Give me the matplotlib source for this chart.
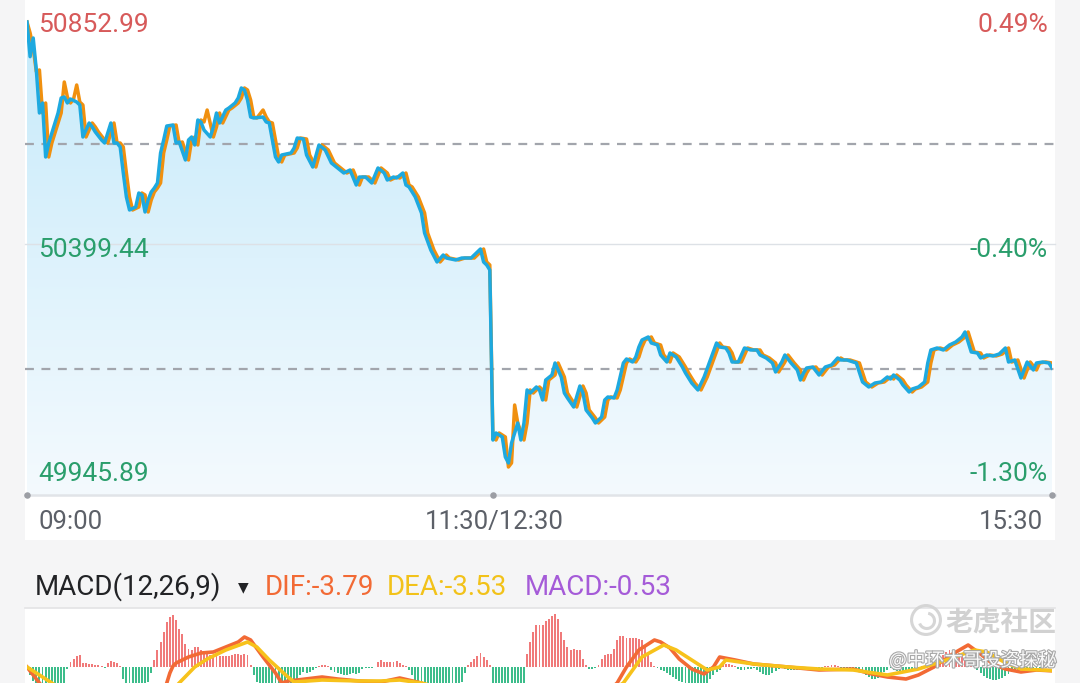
import matplotlib
matplotlib.use("Agg")
import matplotlib.pyplot as plt
import matplotlib.patheffects as pe
from matplotlib.patches import Rectangle, Circle, Polygon, Arc
from matplotlib.lines import Line2D
import numpy as np

# ---------------- data ----------------
price_times = [
    "09:00", "09:01", "09:02", "09:03", "09:04", "09:05", "09:06", "09:07", "09:08", "09:10",
    "09:11", "09:12", "09:13", "09:14", "09:16", "09:17", "09:18", "09:20", "09:21", "09:22",
    "09:24", "09:25", "09:26", "09:27", "09:28", "09:29", "09:30", "09:31", "09:32", "09:33",
    "09:35", "09:36", "09:37", "09:38", "09:39", "09:40", "09:41", "09:42", "09:43", "09:44",
    "09:45", "09:47", "09:48", "09:49", "09:51", "09:52", "09:53", "09:54", "09:55", "09:56",
    "09:57", "09:59", "10:00", "10:01", "10:02", "10:04", "10:05", "10:07", "10:08", "10:09",
    "10:10", "10:11", "10:12", "10:13", "10:16", "10:17", "10:18", "10:19", "10:20", "10:21",
    "10:22", "10:25", "10:26", "10:27", "10:29", "10:30", "10:32", "10:34", "10:36", "10:38",
    "10:40", "10:42", "10:44", "10:46", "10:47", "10:49", "10:51", "10:53", "10:55", "10:56",
    "10:58", "10:59", "11:01", "11:02", "11:03", "11:05", "11:07", "11:08", "11:10", "11:12",
    "11:14", "11:15", "11:18", "11:20", "11:23", "11:25", "11:26", "11:27", "11:28", "11:29",
    "12:30", "12:31", "12:33", "12:34", "12:35", "12:36", "12:38", "12:39", "12:40", "12:41",
    "12:42", "12:44", "12:45", "12:46", "12:47", "12:49", "12:50", "12:52", "12:53", "12:54",
    "12:56", "12:58", "12:59", "13:00", "13:02", "13:03", "13:05", "13:06", "13:07", "13:09",
    "13:10", "13:12", "13:13", "13:15", "13:16", "13:17", "13:18", "13:20", "13:21", "13:23",
    "13:24", "13:26", "13:27", "13:29", "13:31", "13:32", "13:34", "13:36", "13:38", "13:40",
    "13:42", "13:43", "13:45", "13:46", "13:47", "13:49", "13:51", "13:53", "13:55", "13:56",
    "13:58", "14:00", "14:01", "14:03", "14:04", "14:06", "14:08", "14:09", "14:10", "14:11",
    "14:13", "14:15", "14:17", "14:19", "14:21", "14:22", "14:24", "14:27", "14:29", "14:31",
    "14:33", "14:35", "14:37", "14:38", "14:39", "14:41", "14:42", "14:44", "14:45", "14:47",
    "14:49", "14:50", "14:51", "14:53", "14:55", "14:57", "14:59", "15:01", "15:02", "15:04",
    "15:06", "15:07", "15:09", "15:11", "15:13", "15:15", "15:16", "15:18", "15:20", "15:21",
    "15:22", "15:24", "15:25", "15:27", "15:29", "15:30",
]
price_values = [
    50852.99, 50782.3, 50820.4, 50755.2, 50667.5, 50687.9, 50577.8, 50606.3, 50626.7, 50667.5,
    50698.1, 50700.1, 50687.9, 50696.0, 50689.9, 50683.8, 50618.6, 50647.1, 50639.0, 50628.8,
    50612.5, 50606.3, 50626.7, 50647.1, 50606.3, 50606.3, 50598.2, 50545.2, 50496.3, 50469.8,
    50475.9, 50504.4, 50500.4, 50465.7, 50490.2, 50506.5, 50514.6, 50524.8, 50586.0, 50612.5,
    50641.0, 50643.0, 50606.3, 50608.4, 50571.7, 50612.5, 50618.6, 50602.3, 50653.2, 50649.2,
    50632.8, 50618.6, 50639.0, 50667.5, 50647.1, 50673.6, 50677.7, 50687.9, 50698.1, 50718.5,
    50714.4, 50694.0, 50659.3, 50657.3, 50659.3, 50649.2, 50647.1, 50612.5, 50577.8, 50567.6,
    50581.9, 50586.0, 50596.2, 50616.5, 50614.5, 50581.9, 50557.4, 50602.3, 50592.1, 50565.6,
    50555.4, 50545.2, 50551.3, 50520.7, 50537.0, 50537.0, 50524.8, 50555.4, 50545.2, 50530.9,
    50537.0, 50535.0, 50545.2, 50520.7, 50516.7, 50496.3, 50463.7, 50422.9, 50388.2, 50363.8,
    50378.0, 50371.9, 50367.9, 50371.9, 50371.9, 50384.2, 50390.3, 50363.8, 50357.7, 50347.5,
    50000.9, 50015.2, 50007.1, 49966.3, 49954.1, 49994.8, 50035.6, 50000.9, 50035.6, 50102.9,
    50096.7, 50109.0, 50102.9, 50082.5, 50123.2, 50133.4, 50157.9, 50129.4, 50096.7, 50086.6,
    50068.2, 50111.0, 50096.7, 50062.1, 50045.8, 50035.6, 50047.8, 50082.5, 50088.6, 50086.6,
    50102.9, 50157.9, 50166.1, 50159.9, 50170.1, 50190.5, 50204.8, 50210.9, 50198.7, 50194.6,
    50174.2, 50159.9, 50178.3, 50170.1, 50149.7, 50137.5, 50117.1, 50102.9, 50129.4, 50164.0,
    50198.7, 50190.5, 50188.5, 50178.3, 50159.9, 50159.9, 50188.5, 50184.4, 50184.4, 50174.2,
    50168.1, 50157.9, 50139.6, 50159.9, 50174.2, 50157.9, 50143.6, 50123.2, 50137.5, 50147.7,
    50149.7, 50133.4, 50149.7, 50153.8, 50168.1, 50164.0, 50164.0, 50157.9, 50119.2, 50109.0,
    50117.1, 50119.2, 50129.4, 50125.3, 50133.4, 50123.2, 50113.1, 50098.8, 50104.9, 50109.0,
    50119.2, 50157.9, 50184.4, 50188.5, 50184.4, 50194.6, 50200.7, 50210.9, 50221.1, 50180.3,
    50178.3, 50168.1, 50174.2, 50172.2, 50176.2, 50188.5, 50159.9, 50164.0, 50127.3, 50143.6,
    50159.9, 50143.6, 50157.9, 50159.9, 50157.9, 50147.7,
]

avg_times = [
    "09:00", "09:01", "09:02", "09:03", "09:04", "09:05", "09:06", "09:07", "09:08", "09:09",
    "09:11", "09:12", "09:13", "09:14", "09:15", "09:16", "09:17", "09:18", "09:19", "09:21",
    "09:22", "09:23", "09:25", "09:26", "09:27", "09:28", "09:29", "09:30", "09:31", "09:32",
    "09:33", "09:34", "09:36", "09:37", "09:38", "09:39", "09:40", "09:41", "09:42", "09:43",
    "09:44", "09:45", "09:46", "09:48", "09:49", "09:50", "09:52", "09:53", "09:54", "09:55",
    "09:56", "09:57", "09:58", "10:00", "10:01", "10:02", "10:03", "10:05", "10:06", "10:08",
    "10:09", "10:10", "10:11", "10:12", "10:13", "10:14", "10:16", "10:17", "10:18", "10:19",
    "10:20", "10:21", "10:22", "10:23", "10:26", "10:27", "10:28", "10:30", "10:31", "10:33",
    "10:35", "10:37", "10:39", "10:41", "10:43", "10:45", "10:47", "10:48", "10:50", "10:52",
    "10:54", "10:56", "10:57", "10:59", "11:00", "11:02", "11:03", "11:04", "11:06", "11:08",
    "11:09", "11:11", "11:13", "11:15", "11:16", "11:19", "11:21", "11:24", "11:26", "11:27",
    "11:28", "11:29",
    "12:30", "12:31", "12:32", "12:34", "12:35", "12:36", "12:37", "12:38", "12:40", "12:41",
    "12:42", "12:43", "12:45", "12:46", "12:47", "12:48", "12:50", "12:51", "12:53", "12:54",
    "12:55", "12:57", "12:59", "13:00", "13:01", "13:03", "13:04", "13:06", "13:07", "13:08",
    "13:10", "13:11", "13:13", "13:14", "13:16", "13:17", "13:18", "13:19", "13:21", "13:22",
    "13:24", "13:25", "13:27", "13:28", "13:30", "13:32", "13:33", "13:35", "13:37", "13:39",
    "13:41", "13:43", "13:44", "13:46", "13:47", "13:48", "13:50", "13:52", "13:54", "13:56",
    "13:57", "13:59", "14:01", "14:02", "14:04", "14:05", "14:07", "14:09", "14:10", "14:11",
    "14:12", "14:14", "14:16", "14:18", "14:20", "14:22", "14:23", "14:25", "14:28", "14:30",
    "14:32", "14:34", "14:36", "14:38", "14:39", "14:40", "14:42", "14:43", "14:45", "14:46",
    "14:48", "14:50", "14:51", "14:52", "14:54", "14:56", "14:58", "15:00", "15:02", "15:03",
    "15:05", "15:07", "15:08", "15:10", "15:12", "15:14", "15:16", "15:17", "15:19", "15:21",
    "15:22", "15:23", "15:25", "15:26", "15:28", "15:30",
]
avg_values = [
    50852.99, 50830.6, 50800.0, 50752.0, 50755.2, 50667.5, 50687.9, 50577.8, 50606.3, 50626.7,
    50667.5, 50730.7, 50700.1, 50687.9, 50696.0, 50724.6, 50689.9, 50683.8, 50618.6, 50647.1,
    50639.0, 50628.8, 50612.5, 50606.3, 50626.7, 50647.1, 50606.3, 50606.3, 50598.2, 50545.2,
    50496.3, 50469.8, 50475.9, 50504.4, 50500.4, 50465.7, 50490.2, 50506.5, 50514.6, 50524.8,
    50586.0, 50612.5, 50641.0, 50643.0, 50606.3, 50608.4, 50571.7, 50612.5, 50618.6, 50602.3,
    50653.2, 50649.2, 50673.6, 50618.6, 50639.0, 50667.5, 50647.1, 50673.6, 50677.7, 50687.9,
    50698.1, 50718.5, 50714.4, 50694.0, 50659.3, 50657.3, 50673.6, 50659.3, 50649.2, 50647.1,
    50612.5, 50577.8, 50567.6, 50581.9, 50586.0, 50596.2, 50616.5, 50614.5, 50581.9, 50557.4,
    50602.3, 50592.1, 50565.6, 50555.4, 50545.2, 50551.3, 50520.7, 50537.0, 50537.0, 50524.8,
    50555.4, 50545.2, 50530.9, 50537.0, 50535.0, 50545.2, 50520.7, 50516.7, 50496.3, 50463.7,
    50422.9, 50388.2, 50363.8, 50378.0, 50371.9, 50367.9, 50371.9, 50371.9, 50384.2, 50390.3,
    50363.8, 50357.7,
    50007.1, 50000.9, 50015.2, 50007.1, 49945.89, 49954.1, 50072.3, 50035.6, 50000.9, 50035.6,
    50102.9, 50096.7, 50109.0, 50102.9, 50082.5, 50123.2, 50133.4, 50157.9, 50129.4, 50096.7,
    50086.6, 50068.2, 50111.0, 50096.7, 50062.1, 50045.8, 50035.6, 50047.8, 50082.5, 50088.6,
    50086.6, 50102.9, 50157.9, 50166.1, 50159.9, 50170.1, 50190.5, 50204.8, 50210.9, 50198.7,
    50194.6, 50174.2, 50159.9, 50178.3, 50170.1, 50149.7, 50137.5, 50117.1, 50102.9, 50129.4,
    50164.0, 50198.7, 50190.5, 50188.5, 50178.3, 50159.9, 50159.9, 50188.5, 50184.4, 50184.4,
    50174.2, 50168.1, 50157.9, 50139.6, 50159.9, 50174.2, 50157.9, 50143.6, 50123.2, 50137.5,
    50147.7, 50149.7, 50133.4, 50149.7, 50153.8, 50168.1, 50164.0, 50164.0, 50157.9, 50119.2,
    50109.0, 50117.1, 50119.2, 50129.4, 50125.3, 50133.4, 50123.2, 50113.1, 50098.8, 50104.9,
    50109.0, 50119.2, 50157.9, 50184.4, 50188.5, 50184.4, 50194.6, 50200.7, 50210.9, 50221.1,
    50180.3, 50178.3, 50168.1, 50174.2, 50172.2, 50176.2, 50188.5, 50159.9, 50164.0, 50127.3,
    50143.6, 50159.9, 50143.6, 50157.9, 50159.9, 50157.9,
]

# price scale labels (left) and change labels (right)
scale_values = [50852.99, 50399.44, 49945.89]
scale_labels = ["50852.99", "50399.44", "49945.89"]
pct_labels = ["0.49%", "-0.40%", "-1.30%"]
prev_close = 50604.0
ref_level = 50145.7
time_ticks = ["09:00", "11:30", "15:30"]
time_tick_labels = ["09:00", "11:30/12:30", "15:30"]

# MACD histogram, one bar per minute (09:00 ... 15:30)
macd_hist = [
    -3, -8, -14, -18, -20, -20, -20, -20, -20, -20, -20, -20, -20, -2,
    5, 8, 11, 12, 4, 4, 3, 3, 2, 2, 1, -1, 4, 6, 5, 4, 1,
    -12, -20, -20, -20, -20, -20, -20, -20, -15, -6,
    7, 17, 25, 35, 45, 50, 52, 47, 38, 33, 23, 18, 17, 20, 20, 17, 13, 13, 12, 12,
    11, 11, 11, 11, 11, 12, 13, 13, 12, 13, 12, 2,
    -8, -15, -20, -20, -20, -20, -20, -20, -20, -20, -20, -20, -18, -15, -12, -8,
    -5, -6, -5, -3, -1, 1, 2, 2, 1,
    -3, -5, -6, -7, -8, -8, -7, -6, -7, -6,
    -2, -1, -1, -1, 0,
    5, 7, 5, 5, 5, 5, 6, 4, 2, 1,
    -3, -8, -15, -20, -20, -20, -20, -20, -20, -20, -20, -20, -20, -20, -20, -20, -20, -15, -6,
    2, 5, 8, 11, 14, 10, 7, 2,
    -20, -20, -20, -20, -20, -20, -20, -20, -20, -20, -20,
    13, 25, 35, 42, 42, 42, 46, 48, 51, 53, 48, 35, 27, 20, 17, 18, 17, 17, 8, 2,
    -2, -2, -1,
    2, 8, 12, 13, 13, 18, 27, 31, 31, 29, 29, 29, 29, 28, 27, 20, 13, 5, 1,
    -1, -3, -4, -6, -8, -10, -12, -14, -15, -16, -17, -20, -20, -20, -20, -20, -20,
    -12, -8, -5, -3,
    2, 3, 3, 2, 1, -2, -3, -3, -2, -2, -1,
    -3, -5, -7, -8, -8, -6, -4, -2,
    -1, -2, -3, -3, -3, -3, -3, -2, -2, -3, -3, -2, -2, -1, 1, 1, 2, 2, 1, -1,
    -2, -2, -2, -2, -2, -3,
    -5, -8, -10, -12, -12, -11, -8, -5, -3, -1,
    -3, -4, -5, -5, -4, -4, -3, -2, -1, 1, 1, 1, 1,
    3, 6, 9, 12, 15, 17, 17, 16, 14, 11, 8, 5, 2, 1,
    -3, -6, -9, -11, -12, -13, -13, -12, -11, -9, -7, -5, -4, -3, -3,
    -3, -3, -2, -2, -1, -1, -1, -1, -1, -1,
]
dif_times = [
    "09:00", "09:02", "09:04", "09:08", "09:15", "09:25", "09:35", "09:40", "09:43", "09:45",
    "09:46", "09:47", "09:48", "09:52", "09:56", "10:00", "10:04", "10:08", "10:10", "10:12",
    "10:16", "10:20", "10:22", "10:24", "10:27", "10:35", "10:40", "10:47", "10:54", "11:00",
    "11:07", "11:12", "11:20", "11:29", "12:32", "12:38", "12:45", "12:55", "13:05", "13:10",
    "13:13", "13:17", "13:21", "13:22", "13:24", "13:27", "13:30", "13:34", "13:38", "13:41",
    "13:43", "13:48", "13:54", "14:05", "14:15", "14:26", "14:32", "14:37", "14:43", "14:47",
    "14:52", "14:58", "15:03", "15:07", "15:11", "15:15", "15:20", "15:25", "15:30",
]
dif_values = [
    0, -8, -16, -30, -40, -45, -55, -50, -35, -16,
    -6, 1, 4, 10, 14, 15, 20, 25, 30, 27,
    10, -6, -16, -14, -13, -10, -12, -14, -15, -11,
    -16, -25, -35, -30, -60, -90, -80, -55, -30, -16,
    0, 17, 25, 27, 25, 19, 8, -2, -7, 0,
    10, 7, 3, 0, -3, -2, -7, -10, -12, -8,
    0, 13, 22, 13, 3, -2, -5, -3, -3.79,
]
dea_times = [
    "09:00", "09:03", "09:06", "09:10", "09:20", "09:30", "09:40", "09:45", "09:49", "09:54",
    "09:58", "10:04", "10:11", "10:14", "10:18", "10:24", "10:26", "10:35", "10:47", "10:54",
    "11:00", "11:07", "11:15", "11:29", "12:35", "12:45", "12:55", "13:05", "13:12", "13:18",
    "13:25", "13:29", "13:34", "13:39", "13:43", "13:45", "13:54", "14:05", "14:15", "14:26",
    "14:37", "14:47", "14:56", "15:05", "15:09", "15:14", "15:20", "15:30",
]
dea_values = [
    0, -6, -12, -20, -32, -40, -42, -30, -16, 0,
    8, 17, 25, 20, 7, -10, -15, -13, -14, -14,
    -13, -16, -22, -28, -45, -60, -50, -30, -16, 10,
    22, 17, 7, -3, 0, 7, 3, 0, -2, -3,
    -8, -2, 7, 17, 15, 6, -2, -3.53,
]
macd_title = "MACD(12,26,9)"
macd_items = ["DIF:-3.79", "DEA:-3.53", "MACD:-0.53"]


def to_idx(t):
    h, m = map(int, t.split(":"))
    tot = h * 60 + m
    return tot - 540 if tot <= 690 else 150 + (tot - 750)


# ---------------- figure ----------------
W, H = 1080, 683
BG = "#f5f5f6"
RED = "#d75a5a"
GREEN = "#2a9e6c"
BLUE = "#1ea9df"
ORANGE = "#f0900f"
FONT = "Roboto"

fig = plt.figure(figsize=(W / 100, H / 100), dpi=100, facecolor=BG)


def fx(x):
    return x / W


def fy(y):
    return 1 - y / H


fig.patches.append(Rectangle((fx(25), fy(540)), 1030 / W, 540 / H, transform=fig.transFigure,
                             facecolor="white", edgecolor="none", zorder=-5))
fig.patches.append(Rectangle((fx(25), 0), 1030 / W, 75 / H, transform=fig.transFigure,
                             facecolor="white", edgecolor="none", zorder=-5))
fig.add_artist(Line2D([fx(25), fx(1055)], [fy(608), fy(608)], color="#e3e3e5", lw=1.2, zorder=-4))

# ---------- price panel ----------
ax = fig.add_axes([fx(27), fy(495), 1025 / W, 495 / H])
ax.set_facecolor("none")
hi_v, mid_v, lo_v = scale_values
per_px = (hi_v - lo_v) / 445.0
ylo, yhi = lo_v - 28 * per_px, hi_v + 22 * per_px

xb = np.array([to_idx(t) for t in price_times], dtype=float)
yb = np.array(price_values)
xo = np.array([to_idx(t) for t in avg_times], dtype=float)
yo = np.array(avg_values)

verts = [(xb[0], ylo)] + list(zip(xb, yb)) + [(xb[-1], ylo)]
poly = Polygon(verts, closed=True, facecolor="none", edgecolor="none")
ax.add_patch(poly)
g = np.linspace(0, 1, 256)[:, None, None]
top_c = np.array([198, 234, 250]) / 255.0
bot_c = np.array([244, 250, 254]) / 255.0
img = top_c[None, None, :] * (1 - g) + bot_c[None, None, :] * g
im = ax.imshow(img, extent=[xb[0], xb[-1], ylo, hi_v], aspect="auto", origin="upper", zorder=1,
               interpolation="bilinear")
im.set_clip_path(poly)

ax.set_xlim(0, 330)
ax.set_ylim(ylo, yhi)
ax.axis("off")

ext_l = -2 / 1025
ext_r = 1 + 3 / 1025
ax.axhline(mid_v, xmin=ext_l, xmax=ext_r, color="#dde1e6", lw=1.0, zorder=2, clip_on=False)
for lvl in (prev_close, ref_level):
    ax.axhline(lvl, xmin=ext_l, xmax=ext_r, color="#a2a5ac", lw=1.6, ls=(0, (4, 3.4)),
               zorder=2, clip_on=False)
ax.axhline(ylo, xmin=ext_l, xmax=ext_r, color="#e1e4e8", lw=1.8, zorder=2, clip_on=False)

ax.plot(xo, yo, color=ORANGE, lw=2.5, zorder=3, solid_joinstyle="round")
ax.plot(xb, yb, color=BLUE, lw=2.5, zorder=4, solid_joinstyle="round")

tick_idx = [to_idx(t) for t in time_ticks]
ax.scatter(tick_idx, [ylo] * len(tick_idx), s=22, color="#9c9ea4", zorder=5, clip_on=False,
           linewidths=0)

# scale labels
baselines = [32, 257, 481]
for v, lab, pct, b in zip(scale_values, scale_labels, pct_labels, baselines):
    col = RED if v > prev_close else GREEN
    fig.text(fx(38), fy(b), lab, color=col, fontsize=19, family=FONT, va="baseline", ha="left")
    fig.text(fx(1048), fy(b), pct, color=col, fontsize=19, family=FONT, va="baseline", ha="right")

# time labels
tx = [fx(38), fx(494), fx(1043)]
tha = ["left", "center", "right"]
for lab, x, ha in zip(time_tick_labels, tx, tha):
    fig.text(x, fy(529), lab, color="#5c6068", fontsize=18.5, family=FONT, va="baseline", ha=ha)

# ---------- MACD panel ----------
mx = fig.add_axes([fx(27), 0, 1025 / W, 75 / H])
mx.set_facecolor("none")
hv = np.array(macd_hist, dtype=float)
hi_idx = np.arange(len(hv))
cols = np.where(hv >= 0, "#f07a7a", "#3dbd8b")
mx.bar(hi_idx, hv, width=0.62, color=cols, linewidth=0, zorder=1)
mx.plot([to_idx(t) for t in dif_times], dif_values, color="#f26a35", lw=2.6, zorder=3,
        solid_joinstyle="round")
mx.plot([to_idx(t) for t in dea_times], dea_values, color="#f7c21b", lw=2.6, zorder=4,
        solid_joinstyle="round")
mx.set_xlim(0, 330)
mx.set_ylim(-16, 59)
mx.axis("off")

# MACD title
fig.text(fx(35), fy(595), macd_title, color="#222326", fontsize=20, family=FONT, va="baseline")
fig.text(fx(238), fy(591), "\u25BC", color="#222326", fontsize=10, family="DejaVu Sans", va="baseline")
item_cols = ["#f26a35", "#f2c21a", "#a55bd8"]
item_x = [265, 387, 525]
for txt, c, x in zip(macd_items, item_cols, item_x):
    fig.text(fx(x), fy(595), txt, color=c, fontsize=20, family=FONT, va="baseline")

# watermark
lg = fig.add_axes([fx(909), fy(637), 34 / W, 34 / H])
lg.set_xlim(-1, 1)
lg.set_ylim(-1, 1)
lg.set_aspect("equal")
lg.axis("off")
lg.add_patch(Circle((0, 0), 0.85, fill=False, ec="#d2d2d2", lw=2.2, alpha=0.9))
lg.add_patch(Arc((0.05, -0.05), 0.9, 0.9, theta1=200, theta2=80, ec="#d2d2d2", lw=2.2, alpha=0.9))
fig.text(fx(946), fy(632), "老虎社区", color="#cfcfcf", fontsize=20, fontweight="bold",
         family=["Noto Sans CJK SC"], va="baseline", alpha=0.95)
fig.text(fx(889), fy(666), "@中环木哥投资探秘", color="#fafafa", fontsize=13.5,
         family=["Noto Sans CJK SC", "DejaVu Sans"], va="baseline",
         path_effects=[pe.withStroke(linewidth=1.6, foreground="#a8a8a8")])

fig.savefig("out.png", dpi=100, facecolor=BG)
